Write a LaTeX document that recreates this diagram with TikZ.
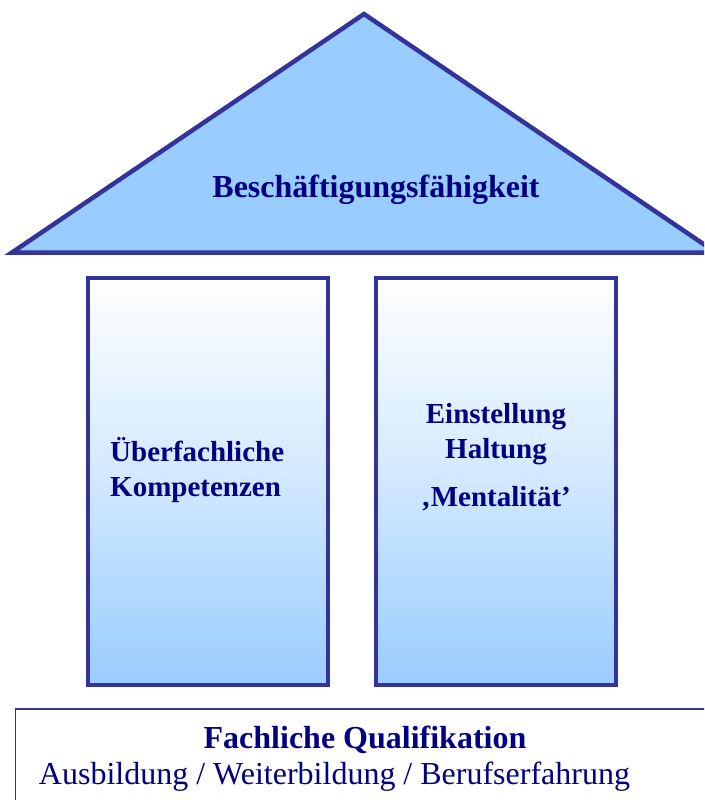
\documentclass[tikz,border=0pt]{standalone}
\usepackage{fontspec}
\setmainfont{Liberation Serif}
\begin{document}
\definecolor{roofblue}{HTML}{99CCFF}
\definecolor{edgeblue}{HTML}{333399}
\definecolor{textnavy}{HTML}{000080}
\tikzset{
  pillar/.style={draw=edgeblue, line width=4pt, top color=white, bottom color=roofblue, middle color=roofblue!45},
  boldlabel/.style={text=textnavy, font=\bfseries\fontsize{29}{35}\selectfont, align=center, inner sep=0pt},
}
\begin{tikzpicture}[x=1pt,y=-1pt]
\useasboundingbox (0,0) rectangle (704,800);
\clip (0,0) rectangle (704,800);
% roof
\draw[draw=edgeblue, fill=roofblue, line width=4.5pt, line join=miter] (12,252.5) -- (364,14) -- (716,252.5) -- cycle;
\node[boldlabel, font=\bfseries\fontsize{32}{36}\selectfont] (roof) at (376,190) {Beschäftigungsfähigkeit};
% pillars
\draw[pillar] (88,277.5) rectangle (328,685);
\draw[pillar] (376,277.5) rectangle (616,685);
\node[boldlabel, align=left, anchor=west] (left) at (110,470) {Überfachliche\\Kompetenzen};
\node[boldlabel] (right) at (496,457.5) {Einstellung\\Haltung\\[13pt]‚Mentalität’};
% foundation
\draw[draw=edgeblue, line width=1.5pt] (15.5,820) -- (15.5,709) -- (720,709);
\node[boldlabel, font=\bfseries\fontsize{32}{36}\selectfont] (found) at (365,740) {Fachliche Qualifikation};
\node[text=textnavy, font=\fontsize{32}{36}\selectfont, inner sep=0pt] (sub) at (334.5,777) {Ausbildung / Weiterbildung / Berufserfahrung};
\end{tikzpicture}
\end{document}
